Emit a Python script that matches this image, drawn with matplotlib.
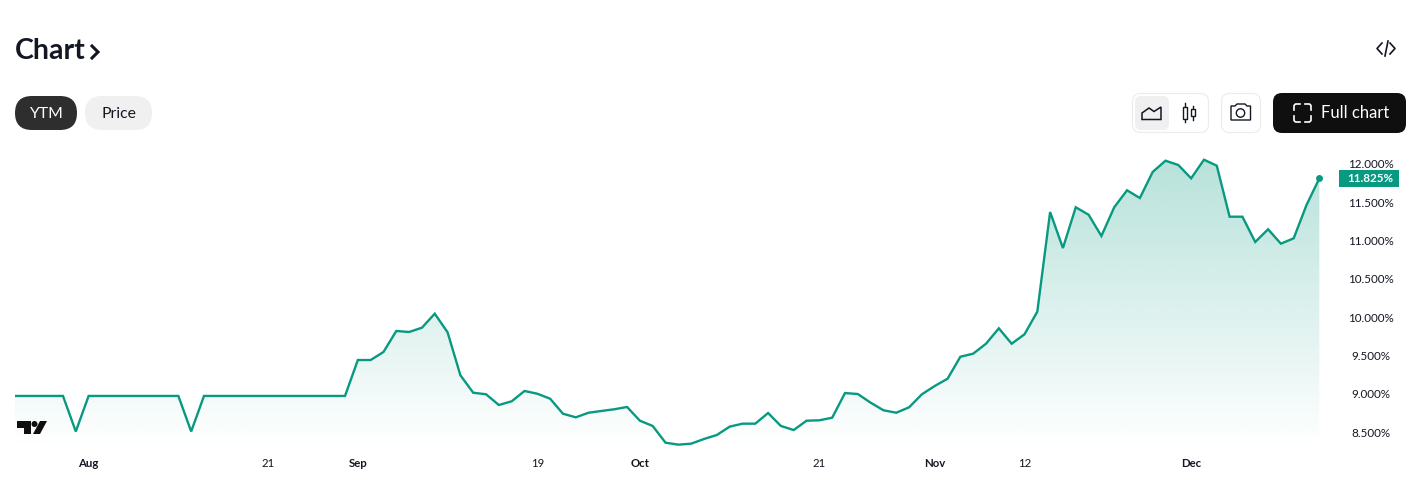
import numpy as np
import matplotlib
matplotlib.use('Agg')
import matplotlib.pyplot as plt
from matplotlib.patches import FancyBboxPatch, Rectangle, Circle, Polygon

plt.rcParams['font.family'] = ['Lato', 'Noto Sans', 'DejaVu Sans']

# yield to maturity, one value per trading day (%)
ytm = [8.985, 8.985, 8.985, 8.985, 8.985, 8.521, 8.985, 8.985, 8.985, 8.985,
       8.985, 8.985, 8.985, 8.985, 8.521, 8.985, 8.985, 8.985, 8.985, 8.985,
       8.985, 8.985, 8.985, 8.985, 8.985, 8.985, 8.985, 9.454, 9.454, 9.559,
       9.833, 9.820, 9.876, 10.059, 9.816, 9.255, 9.027, 9.007, 8.867, 8.915,
       9.050, 9.014, 8.949, 8.753, 8.706, 8.766, 8.789, 8.811, 8.841, 8.662,
       8.593, 8.375, 8.349, 8.362, 8.423, 8.475, 8.584, 8.623, 8.623, 8.762,
       8.593, 8.540, 8.662, 8.667, 8.701, 9.023, 9.010, 8.897, 8.798, 8.766,
       8.837, 9.007, 9.115, 9.210, 9.497, 9.537, 9.667, 9.868, 9.667, 9.790,
       10.085, 11.386, 10.916, 11.448, 11.351, 11.073, 11.448, 11.670, 11.569, 11.909,
       12.056, 12.000, 11.826, 12.069, 11.991, 11.325, 11.325, 10.995, 11.161, 10.973,
       11.043, 11.478, 11.825]

date_ticks = [6, 20, 27, 41, 49, 63, 72, 79, 92]
date_labels = ['Aug', '21', 'Sep', '19', 'Oct', '21', 'Nov', '12', 'Dec']
bold_labels = ['Aug', 'Sep', 'Oct', 'Nov', 'Dec']
price_ticks = [8.5, 9, 9.5, 10, 10.5, 11, 11.5, 12]
last_label = '11.825%'

GREEN = '#089981'
W, H = 1426, 495

fig = plt.figure(figsize=(W / 100, H / 100), dpi=100)

# overlay in pixel coordinates for the page furniture
ui = fig.add_axes([0, 0, 1, 1], zorder=3)
ui.set_xlim(0, W)
ui.set_ylim(H, 0)
ui.axis('off')
ui.patch.set_alpha(0)

# chart pane: x 15..1335, y 150..447 px
left, right, top, bottom = 15, 1335, 150, 447
ax = fig.add_axes([left / W, 1 - bottom / H, (right - left) / W, (bottom - top) / H], zorder=2)
x = np.arange(len(ytm))
step = 12.82
x0 = 11.7
ax.set_xlim((left - x0) / step, (right - x0) / step)
px_per_pct = 76.6
ax.set_ylim(12 - (bottom - 165) / px_per_pct, 12 - (top - 165) / px_per_pct)

# gradient area under the line
ymin, ymax = ax.get_ylim()
grad = np.zeros((256, 1, 4))
grad[..., 0], grad[..., 1], grad[..., 2] = matplotlib.colors.to_rgb(GREEN)
grad[:, 0, 3] = np.linspace(0.29, 0.0, 256)
top_val = max(ytm)
im = ax.imshow(grad, aspect='auto', extent=[x[0], x[-1], ymin, top_val], zorder=1, interpolation='bilinear')
area = ax.fill_between(x, ytm, ymin, color='none')
im.set_clip_path(area.get_paths()[0], transform=ax.transData)
ax.set_xlim((left - x0) / step, (right - x0) / step)
ax.set_ylim(ymin, ymax)

ax.plot(x, ytm, color=GREEN, lw=1.7, zorder=3, solid_joinstyle='miter')
ax.plot(x[-1], ytm[-1], 'o', color=GREEN, ms=5, mew=0, zorder=4, clip_on=False)
ax.axis('off')

# date labels
for t, lab in zip(date_ticks, date_labels):
    ax.text(t, ymin - 17 / px_per_pct, lab, ha='center', va='center', fontsize=8.2, color='#131722',
            fontweight='bold' if lab in bold_labels else 'normal', clip_on=False)

# price scale labels
for p in price_ticks:
    ui.text(1370.5, 165 + (12 - p) * px_per_pct, '%.3f%%' % p, ha='center', va='center',
            fontsize=8.4, color='#131722')

# last value tag
ly = 165 + (12 - ytm[-1]) * px_per_pct
ui.add_patch(Rectangle((1339, ly - 8.5), 60, 17, color=GREEN, lw=0, zorder=5))
ui.text(1370, ly, last_label, ha='center', va='center', fontsize=8.4, color='white', fontweight='bold', zorder=6)

# title
ui.text(15, 51, 'Chart', ha='left', va='center', fontsize=20.5, color='#131722', fontweight='bold')
ui.plot([92, 98, 92], [46, 52, 58], color='#131722', lw=2.2, solid_joinstyle='miter')

# embed icon
ui.plot([1382, 1377, 1382], [43, 48.5, 54], color='#131722', lw=1.2)
ui.plot([1390, 1395, 1390], [43, 48.5, 54], color='#131722', lw=1.2)
ui.plot([1388, 1385], [41, 56], color='#131722', lw=1.2)


def pill(x, y, w, h, r, fc, ec='none', lw=0):
    ui.add_patch(FancyBboxPatch((x + r, y + r), w - 2 * r, h - 2 * r, boxstyle='round,pad=%f,rounding_size=%f' % (r, r),
                                fc=fc, ec=ec, lw=lw))


pill(15, 96, 62, 34, 17, '#2e2e2e')
ui.text(46, 113.5, 'YTM', ha='center', va='center', fontsize=11.3, color='white')
pill(85, 96, 67, 34, 17, '#f0f0f0')
ui.text(118.5, 113.5, 'Price', ha='center', va='center', fontsize=11.3, color='#131722')

# style switch
pill(1132.5, 93.5, 76, 39, 8, 'white', '#ececec', 0.8)
pill(1135, 96, 34, 34, 6, '#f0f0f0')
ui.add_patch(Polygon([(1142, 119.5), (1142, 113), (1149, 108), (1154, 111.5), (1161, 107), (1161, 119.5)],
                     closed=True, fc='none', ec='#131722', lw=1.1))
ui.plot([1185, 1185], [103, 122], color='#131722', lw=1)
ui.add_patch(Rectangle((1183.2, 107), 3.6, 12, fc='white', ec='#131722', lw=1, zorder=4))
ui.plot([1193, 1193], [106, 120], color='#131722', lw=1)
ui.add_patch(Rectangle((1191.2, 109), 3.6, 7, fc='white', ec='#131722', lw=1, zorder=4))

# camera button
pill(1221.5, 93.5, 39, 39, 8, 'white', '#ececec', 0.8)
ui.add_patch(Polygon([(1231, 106), (1235, 106), (1237, 104), (1245, 104), (1247, 106), (1250.5, 106), (1250.5, 120), (1231, 120)],
                     closed=True, fc='none', ec='#131722', lw=1))
ui.add_patch(Circle((1240.5, 113), 4.2, fc='none', ec='#131722', lw=1))

# full chart button
pill(1273, 93, 133, 40, 9, '#0f0f0f')
for cx, cy, sx, sy in [(1294, 104, 1, 1), (1311, 104, -1, 1), (1294, 122, 1, -1), (1311, 122, -1, -1)]:
    ui.plot([cx, cx, cx + 1.5 * sx, cx + 6 * sx], [cy + 6 * sy, cy + 1.5 * sy, cy, cy], color='white', lw=1.2)
ui.text(1355.5, 113.5, 'Full chart', ha='center', va='center', fontsize=11.9, color='white')

# tradingview logo
ui.add_patch(Polygon([(17, 421), (31, 421), (31, 434), (24, 434), (24, 428), (17, 428)], closed=True, fc='#0f0f0f', ec='none', zorder=5))
ui.add_patch(Circle((34.5, 424), 3, fc='#0f0f0f', ec='none', zorder=5))
ui.add_patch(Polygon([(40, 421), (47, 421), (40, 434), (33, 434)], closed=True, fc='#0f0f0f', ec='none', zorder=5))

fig.savefig('out.png', dpi=100, facecolor='white')
